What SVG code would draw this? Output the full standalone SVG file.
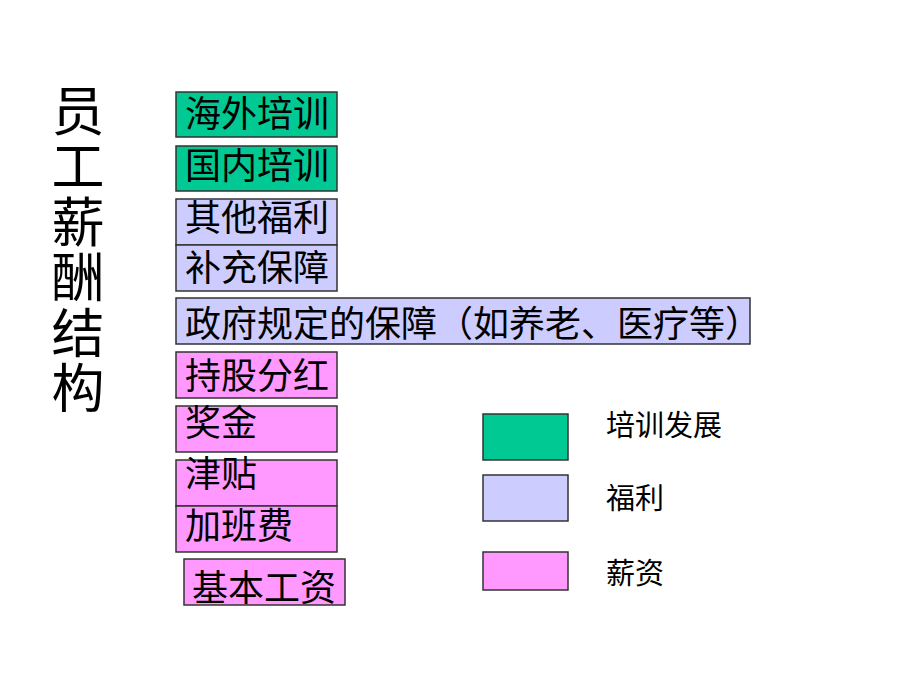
<svg xmlns="http://www.w3.org/2000/svg" width="920" height="690" viewBox="0 0 920 690">
<style>
text{font-family:"Noto Sans CJK SC","Noto Sans",sans-serif;fill:#000}
.b{stroke:#333;stroke-width:1.5}
.g{fill:#00C993}
.l{fill:#CCCCFF}
.p{fill:#FF99FF}
.t{font-size:36px}
.lg{font-size:29px}
.ti{font-size:53px;writing-mode:vertical-rl;letter-spacing:2.5px}
</style>
<rect width="920" height="690" fill="#fff"/>
<g id="title">
<text class="ti" x="78" y="84">员工薪酬结构</text>
</g>
<g id="n1"><rect class="b g" x="176" y="92" width="161" height="45"/><text class="t" x="185" y="127">海外培训</text></g>
<g id="n2"><rect class="b g" x="176" y="146" width="161" height="45"/><text class="t" x="185" y="179">国内培训</text></g>
<g id="n3"><rect class="b l" x="176" y="199" width="161" height="46"/><text class="t" x="185" y="231">其他福利</text></g>
<g id="n4"><rect class="b l" x="176" y="245" width="161" height="46"/><text class="t" x="185" y="281">补充保障</text></g>
<g id="n5"><rect class="b l" x="176" y="298" width="574" height="46"/><text class="t" x="185" y="337">政府规定的保障（如养老、医疗等）</text></g>
<g id="n6"><rect class="b p" x="176" y="352" width="161" height="46"/><text class="t" x="185" y="389">持股分红</text></g>
<g id="n7"><rect class="b p" x="176" y="406" width="161" height="46"/><text class="t" x="185" y="436">奖金</text></g>
<g id="n8"><rect class="b p" x="176" y="460" width="161" height="46"/><text class="t" x="185" y="487">津贴</text></g>
<g id="n9"><rect class="b p" x="176" y="506" width="161" height="46"/><text class="t" x="185" y="539">加班费</text></g>
<g id="n10"><rect class="b p" x="184" y="559" width="161" height="46"/><text class="t" x="192" y="601">基本工资</text></g>
<g id="legend">
<rect class="b g" x="483" y="414" width="85" height="46"/>
<text class="lg" x="606" y="436">培训发展</text>
<rect class="b l" x="483" y="475" width="85" height="46"/>
<text class="lg" x="606" y="509">福利</text>
<rect class="b p" x="483" y="552" width="85" height="38"/>
<text class="lg" x="606" y="584">薪资</text>
</g>
<g id="connectors"></g>
</svg>
